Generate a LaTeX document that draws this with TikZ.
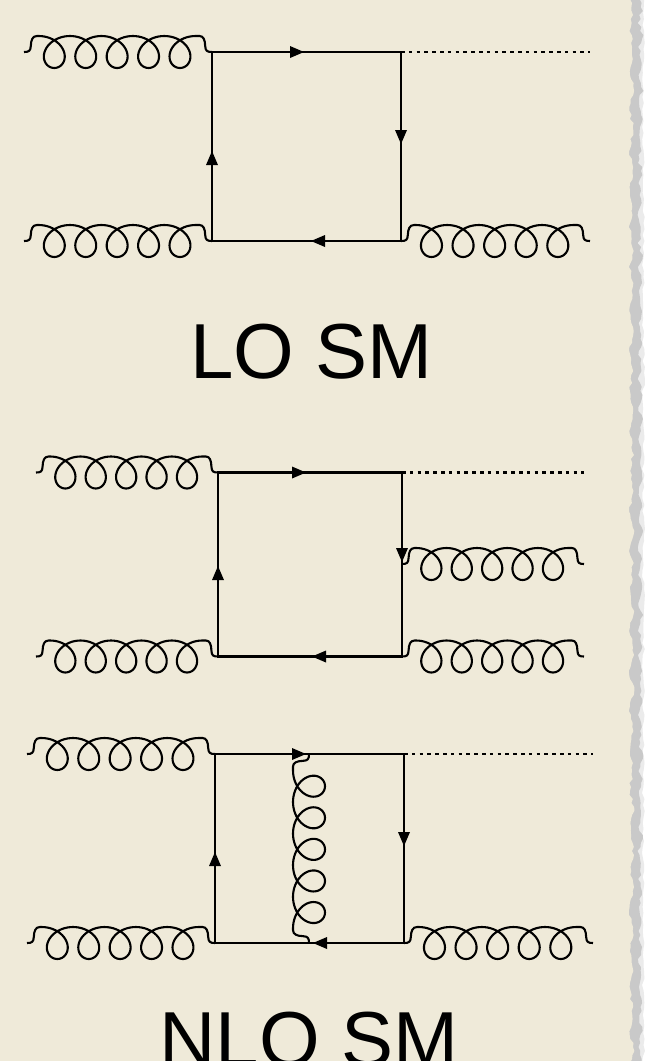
\documentclass[tikz,border=0pt]{standalone}
\usepackage{fontspec}
\setmainfont{Liberation Sans}
\definecolor{paper}{HTML}{EFEAD9}
\definecolor{tornedge}{HTML}{C9C9C9}
\definecolor{halo}{HTML}{EBEBEB}
\tikzset{
  fermion/.style={line width=2.3pt,line join=miter},
  scalar/.style={line width=2.3pt,dash pattern=on 3.5pt off 4.3pt},
  gluonline/.style={line width=2.1pt,line join=round},
  tip/.style={fill=black,draw=none},
  title/.style={font=\fontsize{78}{78}\selectfont,anchor=base,inner sep=0pt}
}
% gluon: local length 188, band 16 above the axis, loops 16 below it (a trochoid)
\newcommand{\gluon}[3]{% origin, length, rotation
  \begin{scope}[shift={#1},rotate=#3,xscale=#2/188]
    \draw[gluonline] (0,0) .. controls (5,0) and (6.5,-1) .. (6.8,-6)
      .. controls (7,-12) and (8.5,-16) .. (13,-16)
      -- plot[domain=0:31.4159,samples=241,variable=\t]
         ({14.6+5*\t+17.6*sin(\t r)},{-16*cos(\t r)})
      -- (175.5,-16)
      .. controls (179.5,-16) and (181,-12) .. (181.2,-6)
      .. controls (181.5,-1) and (183,0) .. (188,0);
  \end{scope}}
\newcommand{\arrowat}[2]{% tip position, rotation (counter-clockwise on the page)
  \fill[tip,shift={#1},rotate=#2] (0,0) -- (-14,-6) -- (-14,6) -- cycle;}
\begin{document}
\begin{tikzpicture}[x=1pt,y=-1pt]
\useasboundingbox (0,0) rectangle (649,1061);
\clip (0,0) rectangle (649,1061);
\fill[white] (0,0) rectangle (649,1061);
\pgfmathsetseed{11}
\fill[halo] (600,-5) \foreach \y in {-5,1,...,1067}{ -- ({642+3*rnd},\y)} -- (600,1067) -- cycle;
\fill[tornedge] (600,-5) \foreach \y in {-5,-1,...,1067}{ -- ({639+3*rnd+1.5*sin(\y*13)},\y)} -- (600,1067) -- cycle;
\fill[paper] (0,-5) -- (630,-5) \foreach \y in {-5,-1,...,1067}{ -- ({630+3*rnd+1.5*sin(\y*9)},\y)} -- (0,1067) -- cycle;

% --- LO SM ---
\coordinate (a1) at (212,52);   \coordinate (b1) at (401,52);
\coordinate (c1) at (401,241);  \coordinate (d1) at (212,241);
\coordinate (g1) at (24,52);    \coordinate (g2) at (24,241);
\coordinate (s1) at (590,52);
\draw[fermion] (a1) -- (b1) -- (c1) -- (d1) -- cycle;
\draw[scalar] (b1) -- (s1);
\gluon{(g1)}{188}{0}
\gluon{(g2)}{188}{0}
\gluon{(c1)}{189}{0}
\arrowat{(304,52)}{0}
\arrowat{(401,144)}{-90}
\arrowat{(311,241)}{180}
\arrowat{(212,151)}{90}
\node[title] (t1) at (311.5,378) {LO SM};

% --- middle diagram ---
\coordinate (a2) at (218,472.5); \coordinate (b2) at (402,472.5);
\coordinate (c2) at (402,656.5); \coordinate (d2) at (218,656.5);
\coordinate (g3) at (36,472.5);  \coordinate (g4) at (36,656.5);
\coordinate (m2) at (402,564);
\coordinate (s2) at (584,472.5);
\draw[fermion] (a2) -- (b2) -- (c2) -- (d2) -- cycle;
\draw[scalar] (b2) -- (s2);
\gluon{(g3)}{182}{0}
\gluon{(g4)}{182}{0}
\gluon{(m2)}{182}{0}
\gluon{(c2)}{182}{0}
\arrowat{(306,472.5)}{0}
\arrowat{(402,562)}{-90}
\arrowat{(312,656.5)}{180}
\arrowat{(218,566)}{90}

% --- NLO SM ---
\coordinate (a3) at (215,754);  \coordinate (b3) at (404,754);
\coordinate (c3) at (404,943);  \coordinate (d3) at (215,943);
\coordinate (g5) at (27,754);   \coordinate (g6) at (27,943);
\coordinate (v1) at (309,943);
\coordinate (s3) at (593,754);
\draw[fermion] (a3) -- (b3) -- (c3) -- (d3) -- cycle;
\draw[scalar] (b3) -- (s3);
\gluon{(g5)}{188}{0}
\gluon{(g6)}{188}{0}
\gluon{(c3)}{189}{0}
\gluon{(v1)}{189}{90}
\arrowat{(306,754)}{0}
\arrowat{(404,846)}{-90}
\arrowat{(313,943)}{180}
\arrowat{(215,852)}{90}
\node[title] (t2) at (309,1066) {NLO SM};
\end{tikzpicture}
\end{document}
